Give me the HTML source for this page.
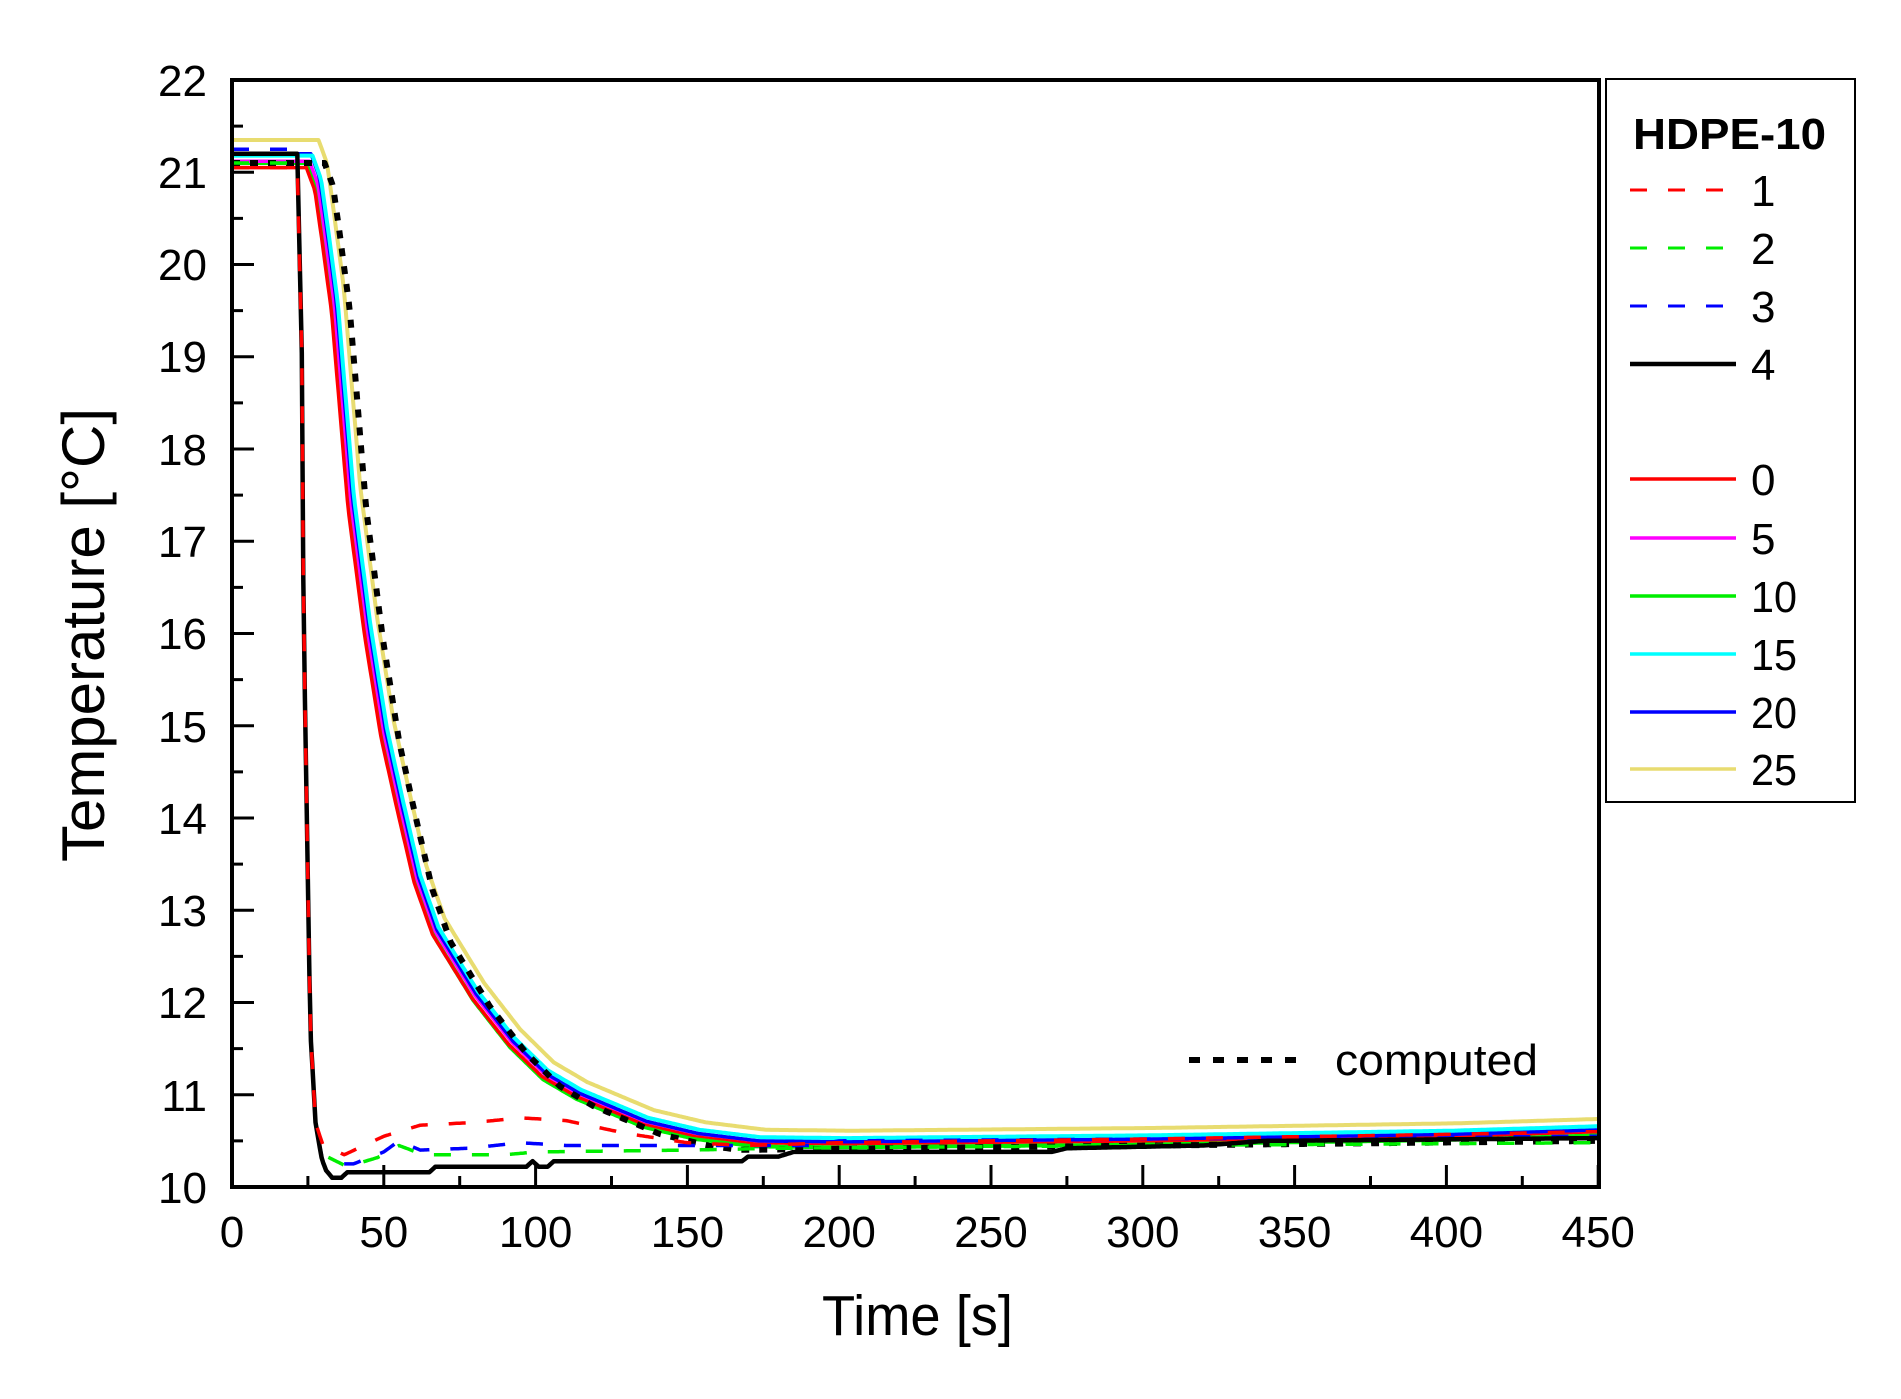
<!DOCTYPE html>
<html><head><meta charset="utf-8"><style>
html,body{margin:0;padding:0;background:#fff;}
svg{display:block;font-family:"Liberation Sans",Arial,sans-serif;}
</style></head><body>
<svg id="s" width="1901" height="1399" viewBox="0 0 1901 1399" xmlns="http://www.w3.org/2000/svg">
<defs><clipPath id="cp"><rect x="232" y="80" width="1367" height="1107"/></clipPath></defs>
<rect width="1901" height="1399" fill="#fff"/>
<g id="curves" clip-path="url(#cp)" fill="none" stroke-linejoin="round"></g>
<g id="ticks" stroke="#000" stroke-width="3"></g>
<rect x="232" y="80" width="1367" height="1107" fill="none" stroke="#000" stroke-width="4"/>
<g font-size="44" text-anchor="end" id="ylab">
<text x="207" y="1203">10</text><text x="207" y="1111">11</text><text x="207" y="1018">12</text>
<text x="207" y="926">13</text><text x="207" y="834">14</text><text x="207" y="742">15</text>
<text x="207" y="649">16</text><text x="207" y="557">17</text><text x="207" y="465">18</text>
<text x="207" y="372">19</text><text x="207" y="280">20</text><text x="207" y="188">21</text>
<text x="207" y="96">22</text>
</g>
<g font-size="44" text-anchor="middle" id="xlab"></g>
<text x="822" y="1335" font-size="57" textLength="191" lengthAdjust="spacingAndGlyphs">Time [s]</text>
<text transform="translate(104,862) rotate(-90)" font-size="60" textLength="454" lengthAdjust="spacingAndGlyphs">Temperature  [°C]</text>
<line x1="1189" y1="1060" x2="1300" y2="1060" stroke="#000" stroke-width="6" stroke-dasharray="11 13"/>
<text x="1335" y="1075" font-size="44" textLength="203" lengthAdjust="spacingAndGlyphs">computed</text>
<rect x="1606" y="79" width="249" height="723" fill="#fff" stroke="#000" stroke-width="2"/>
<text x="1633" y="149" font-size="44" font-weight="bold" textLength="193" lengthAdjust="spacingAndGlyphs">HDPE-10</text>
<g id="leg"></g>
</svg>
<script>
var NS="http://www.w3.org/2000/svg";
function X(t){return 232+3.036*t;}
function Y(T){return 1187-(T-10)*92.25;}
function el(p,tag,a){var e=document.createElementNS(NS,tag);for(var k in a)e.setAttribute(k,a[k]);p.appendChild(e);return e;}
var tk=document.getElementById('ticks');
for(var T=10;T<=22;T+=0.5){var L=(T%1===0)?22:11;el(tk,'line',{x1:232,x2:232+L,y1:Y(T),y2:Y(T)});}
for(var t=0;t<=450;t+=25){var L=(t%50===0)?22:11;el(tk,'line',{x1:X(t),x2:X(t),y1:1187,y2:1187-L});}
var xl=document.getElementById('xlab');
for(var t=0;t<=450;t+=50){var e=el(xl,'text',{x:X(t),y:1247});e.textContent=t;}
function interp(pts,t){if(t<=pts[0][0])return pts[0][1];for(var i=1;i<pts.length;i++){if(t<=pts[i][0]){var a=pts[i-1],b=pts[i];return a[1]+(b[1]-a[1])*(t-a[0])/(b[0]-a[0]);}}return pts[pts.length-1][1];}
var base=[[0,21.05],[24.5,21.05],[27.3,20.8],[29.5,20.29],[32.8,19.48],[38.2,17.36],[43.7,15.97],[49.1,14.87],[54.6,14.06],[60,13.3],[66,12.74],[79,12.05],[91,11.55],[102,11.2],[113,10.99],[124,10.84],[135,10.69],[152,10.56],[172,10.48],[200,10.47],[300,10.5],[400,10.55],[450,10.6]];
var cg=document.getElementById('curves');
function path(f,step,st){var d='';for(var t=0;t<=450;t+=step){d+=(t===0?'M':'L')+X(t).toFixed(1)+' '+Y(f(t)).toFixed(1);}st.d=d;el(cg,'path',st);}
function slow(dt,plat,late,col,w){path(function(t){var b=interp(base,t-dt);var wgt=Math.max(0,Math.min(1,(b-10.5)/(21.05-10.5)));return b+(plat-21.05)*wgt+late*(1-wgt);},0.5,{stroke:col,'stroke-width':w||3.5});}
slow(0.5,21.1,-0.04,'#00ee00',4);
slow(0,21.05,0,'#ff0000');
slow(1,21.12,0.02,'#ff00ff');
slow(1.5,21.2,0.02,'#0000ff');
slow(2,21.18,0.06,'#00ffff',4);
slow(4,21.35,0.14,'#e8dc70',4);
// computed
path(function(t){var b=interp(base,t-6);var wgt=Math.max(0,Math.min(1,(b-10.5)/(21.05-10.5)));var v=b+0.05*wgt-0.12*(1-wgt);if(t>160)v=Math.max(v,10.4+(t-160)*0.1/290);return v;},0.5,{stroke:'#000','stroke-width':6,'stroke-dasharray':'8 10'});
function fast(L,tail,col,w,dash){var pts=[[0,L],[21.5,L],[23,19.04],[23.6,16.1],[24.7,13.9],[25.8,11.7],[27.5,10.7]].concat(tail);var st={stroke:col,'stroke-width':w};if(dash)st['stroke-dasharray']=dash;path(function(t){return interp(pts,t);},0.5,st);}
fast(21.1,[[30,10.35],[38,10.22],[48,10.32],[55,10.45],[63,10.35],[90,10.35],[100,10.38],[150,10.4],[180,10.42],[300,10.45],[450,10.48]],'#00ee00',3.5,'17 21');
fast(21.25,[[30,10.25],[40,10.25],[50,10.38],[55,10.5],[62,10.4],[78,10.42],[95,10.48],[110,10.45],[190,10.45],[200,10.5],[450,10.55]],'#0000ff',3.5,'17 21');
fast(21.2,[[29.6,10.3],[31,10.18],[33,10.1],[36,10.1],[38,10.16],[65,10.16],[67,10.22],[97,10.22],[99,10.28],[101,10.22],[104,10.22],[106,10.28],[168,10.28],[170,10.33],[180,10.33],[185,10.38],[270,10.38],[275,10.42],[320,10.45],[340,10.5],[450,10.53]],'#000',4.5,null);
fast(21.05,[[30,10.45],[37,10.35],[50,10.55],[62,10.67],[80,10.7],[95,10.75],[110,10.72],[130,10.58],[150,10.48],[170,10.45],[200,10.48],[300,10.52],[400,10.57],[450,10.6]],'#ff0000',3.5,'17 21');
var lg=document.getElementById('leg');
var rows=[[190,'1','#ff0000','17 21',3],[248,'2','#00ee00','17 21',3],[306,'3','#0000ff','17 21',3],[364,'4','#000',null,4.5],[479,'0','#ff0000',null,3.5],[538,'5','#ff00ff',null,3.5],[596,'10','#00ee00',null,3.5],[654,'15','#00ffff',null,3.5],[712,'20','#0000ff',null,3.5],[769,'25','#e8dc70',null,3.5]];
rows.forEach(function(r){var a={x1:1630,x2:1736,y1:r[0],y2:r[0],stroke:r[2],'stroke-width':r[4]};if(r[3])a['stroke-dasharray']=r[3];el(lg,'line',a);var tx=el(lg,'text',{x:1751,y:r[0]+16,'font-size':44});if(r[1].length>1){tx.setAttribute('textLength',46);tx.setAttribute('lengthAdjust','spacingAndGlyphs');}tx.textContent=r[1];});
</script>
</body></html>
